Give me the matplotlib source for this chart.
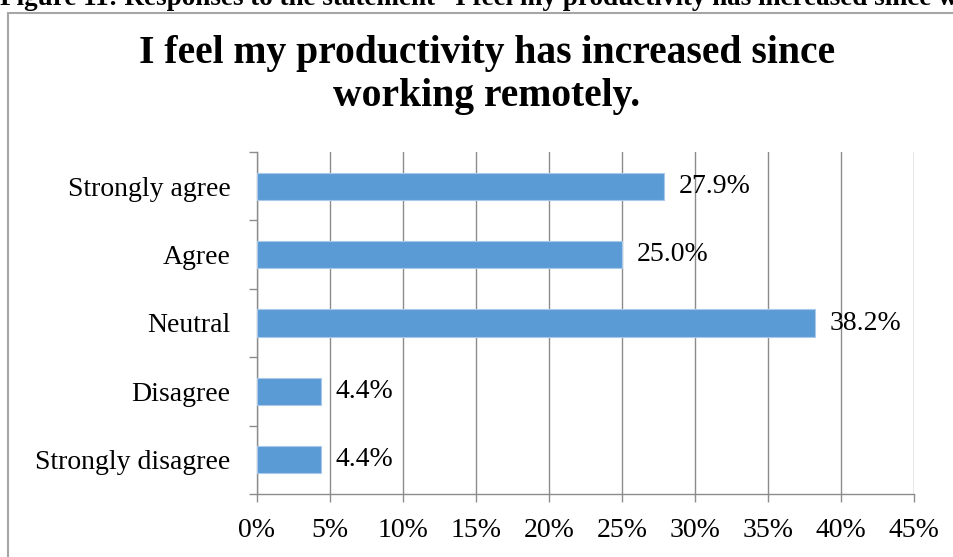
import matplotlib
matplotlib.use("Agg")
import matplotlib.pyplot as plt
from matplotlib.patches import Rectangle
import numpy as np

plt.rcParams['font.family'] = ['Liberation Serif', 'DejaVu Serif']

categories = ['Strongly agree', 'Agree', 'Neutral', 'Disagree', 'Strongly disagree']
values = [27.9, 25.0, 38.2, 4.4, 4.4]
xticks = list(range(0, 50, 5))

W, H = 954, 557
fig = plt.figure(figsize=(W / 100, H / 100), dpi=100)
fig.patch.set_facecolor('white')

# outer frame of the chart (only left and top edges show)
fig.add_artist(Rectangle((8 / W, -0.2), 2.0, 1.2 - 12.5 / H, transform=fig.transFigure,
                         fill=False, edgecolor='#a6a6a6', linewidth=1.5))

# caption above the frame, cut off by the page
fig.text(0.0, 1 - 5 / H, 'Figure 11: Responses to the statement \u201cI feel my productivity has '
         'increased since working remotely.\u201d', fontsize=19.5, fontweight='bold',
         ha='left', va='baseline')

fig.text(487 / W, 1 - 75 / H, 'I feel my productivity has increased since\nworking remotely.',
         fontsize=28.5, fontweight='bold', ha='center', va='center',
         multialignment='center', linespacing=1.2)

ax = fig.add_axes([257 / W, 1 - 494 / H, (914 - 257) / W, (494 - 152) / H])
y = np.arange(len(categories))
ax.barh(y, values, height=0.4, color='#5b9bd5', edgecolor='#a9c8ea', linewidth=0.8, zorder=3)

for yi, v in zip(y, values):
    ax.text(v + 1.0, yi, f'{v:.1f}%', va='center', ha='left', fontsize=20, zorder=4)

ax.set_xlim(0, 45)
ax.set_ylim(len(categories) - 0.5, -0.5)
ax.set_xticks(xticks)
ax.set_xticklabels([f'{t}%' for t in xticks], fontsize=20)
ax.set_yticks(y)
ax.set_yticklabels(categories, fontsize=20)
ax.set_yticks(np.arange(-0.5, len(categories), 1), minor=True)

ax.xaxis.grid(True, color='#8c8c8c', linewidth=1.0, zorder=0)
ax.set_axisbelow(True)

for side in ['top', 'right']:
    ax.spines[side].set_visible(False)
for side in ['left', 'bottom']:
    ax.spines[side].set_color('#8c8c8c')
    ax.spines[side].set_linewidth(1.0)

ax.tick_params(axis='y', which='major', length=0, pad=19)
ax.tick_params(axis='y', which='minor', length=6, color='#8c8c8c', width=1.0)
ax.tick_params(axis='x', which='major', length=6, color='#8c8c8c', width=1.0, pad=11)

fig.savefig('out.png', dpi=100, facecolor='white')
